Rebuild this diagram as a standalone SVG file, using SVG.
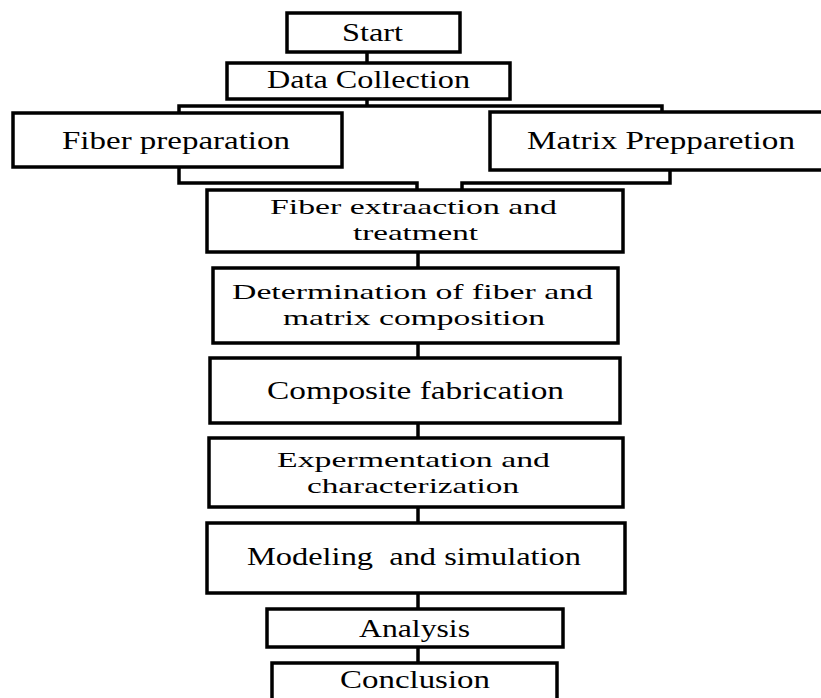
<svg xmlns="http://www.w3.org/2000/svg" width="821" height="698" viewBox="0 0 821 698">
<style>
.box{fill:#fff;stroke:#000;stroke-width:3.5}
.con{fill:none;stroke:#000;stroke-width:3.5;stroke-linejoin:miter}
text{font-family:"Liberation Serif","Times New Roman",serif;font-size:26px;fill:#000;text-anchor:start}
text.two{font-size:22px}
</style>
<rect width="821" height="698" fill="#fff"/>
<g id="connectors">
<path class="con" d="M367,52 V63"/>
<path class="con" d="M367,99 V106 M179,113 V106 H662 V113"/>
<path class="con" d="M179,167 V183 H417 V190"/>
<path class="con" d="M670,170 V183 H462 V190"/>
<path class="con" d="M418,252 V268"/>
<path class="con" d="M418,343 V358"/>
<path class="con" d="M418,423 V438"/>
<path class="con" d="M418,507 V523"/>
<path class="con" d="M418,593 V609"/>
<path class="con" d="M418,647 V663"/>
</g>
<g id="start">
<rect class="box" x="287" y="13" width="173" height="39"/>
<text x="342" y="41" textLength="61" lengthAdjust="spacingAndGlyphs">Start</text>
</g>
<g id="data-collection">
<rect class="box" x="227" y="63" width="283" height="36"/>
<text x="267" y="88" textLength="203" lengthAdjust="spacingAndGlyphs">Data Collection</text>
</g>
<g id="fiber-preparation">
<rect class="box" x="13" y="113" width="329" height="54"/>
<text x="62" y="149" textLength="228" lengthAdjust="spacingAndGlyphs">Fiber preparation</text>
</g>
<g id="matrix-preparation">
<rect class="box" x="490" y="112" width="345" height="58"/>
<text x="527" y="149" textLength="268" lengthAdjust="spacingAndGlyphs">Matrix Prepparetion</text>
</g>
<g id="fiber-extraction">
<rect class="box" x="207" y="190" width="416" height="62"/>
<text class="two" x="270" y="214" textLength="287" lengthAdjust="spacingAndGlyphs">Fiber extraaction and</text>
<text class="two" x="353" y="240" textLength="125" lengthAdjust="spacingAndGlyphs">treatment</text>
</g>
<g id="determination">
<rect class="box" x="213" y="268" width="405" height="75"/>
<text class="two" x="232" y="299" textLength="361" lengthAdjust="spacingAndGlyphs">Determination of fiber and</text>
<text class="two" x="283" y="325" textLength="262" lengthAdjust="spacingAndGlyphs">matrix composition</text>
</g>
<g id="composite-fabrication">
<rect class="box" x="210" y="358" width="410" height="65"/>
<text x="267" y="399" textLength="297" lengthAdjust="spacingAndGlyphs">Composite fabrication</text>
</g>
<g id="experimentation">
<rect class="box" x="209" y="438" width="414" height="69"/>
<text class="two" x="277" y="467" textLength="273" lengthAdjust="spacingAndGlyphs">Expermentation and</text>
<text class="two" x="307" y="493" textLength="212" lengthAdjust="spacingAndGlyphs">characterization</text>
</g>
<g id="modeling">
<rect class="box" x="207" y="523" width="418" height="70"/>
<text x="247" y="565" textLength="334" lengthAdjust="spacingAndGlyphs" xml:space="preserve">Modeling  and simulation</text>
</g>
<g id="analysis">
<rect class="box" x="267" y="609" width="296" height="38"/>
<text x="359" y="637" textLength="111" lengthAdjust="spacingAndGlyphs">Analysis</text>
</g>
<g id="conclusion">
<rect class="box" x="272" y="663" width="285" height="45"/>
<text x="340" y="688" textLength="150" lengthAdjust="spacingAndGlyphs">Conclusion</text>
</g>
</svg>
